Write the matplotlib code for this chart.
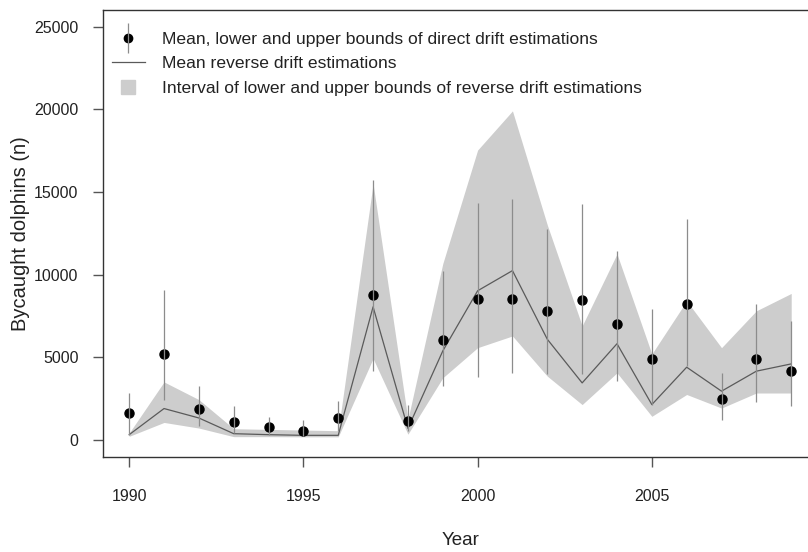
import numpy as np
import matplotlib
matplotlib.use('Agg')
import matplotlib.pyplot as plt
from matplotlib.lines import Line2D
from matplotlib.legend_handler import HandlerTuple

plt.rcParams['font.family'] = ['Liberation Sans', 'DejaVu Sans']

# Data
years = list(range(1990, 2010))

# direct drift estimations (mean, lower, upper)
direct_mean = [1630, 5180, 1870, 1100, 800, 560, 1350, 8760, 1170, 6040,
               8520, 8520, 7770, 8460, 7000, 4890, 8210, 2480, 4890, 4200]
direct_low = [330, 2440, 820, 420, 320, 220, 560, 4160, 560, 3250,
              3800, 4060, 3960, 3960, 3550, 2140, 4470, 1230, 2280, 2040]
direct_high = [2840, 9060, 3250, 2030, 1370, 1230, 2340, 15700, 2140, 10240,
               14330, 14590, 12770, 14290, 11450, 7910, 13380, 4060, 8250, 7200]

# reverse drift estimations (mean, lower, upper)
reverse_mean = [320, 1900, 1330, 380, 320, 280, 280, 8050, 700, 5380,
                9020, 10240, 6090, 3450, 5820, 2140, 4400, 2950, 4160, 4600]
reverse_low = [220, 1060, 720, 200, 200, 190, 190, 4930, 350, 3760,
               5580, 6290, 3860, 2140, 4060, 1430, 2750, 1930, 2840, 2840]
reverse_high = [420, 3510, 2440, 680, 640, 600, 560, 15500, 1250, 10660,
                17530, 19900, 13000, 6900, 11250, 5200, 8410, 5580, 7810, 8860]

legend_labels = ["Mean, lower and upper bounds of direct drift estimations",
                 "Mean reverse drift estimations",
                 "Interval of lower and upper bounds of reverse drift estimations"]

fig = plt.figure(figsize=(8.08, 5.52), dpi=100)
ax = fig.add_axes([0.1271, 0.1730, 0.8849, 0.8089])

txt = '#222222'
band_col = '#cdcdcd'
line_col = '#5a5a5a'
bar_col = '#8c8c8c'

# reverse interval band and mean line
ax.fill_between(years, reverse_low, reverse_high, color=band_col, lw=0, zorder=1)
ax.plot(years, reverse_mean, color=line_col, lw=0.9, zorder=2)

# direct estimations: points with vertical bars on top
ax.plot(years, direct_mean, 'o', color='black', ms=6.5, zorder=3)
ax.vlines(years, direct_low, direct_high, color=bar_col, lw=0.9, zorder=4)

ax.set_xlim(1989.24, 2009.76)
ax.set_ylim(-1000, 26000)
ax.set_xticks([1990, 1995, 2000, 2005])
ax.set_yticks(range(0, 25001, 5000))

for s in ax.spines.values():
    s.set_color('#333333')
    s.set_linewidth(1.0)
ax.tick_params(axis='both', length=7.5, width=1.0, color='#555555',
               labelsize=11.5, labelcolor=txt)
ax.tick_params(axis='y', pad=10)
ax.tick_params(axis='x', pad=16)

ax.set_xlabel('Year', fontsize=13.5, color=txt, labelpad=20)
ax.set_ylabel('Bycaught dolphins (n)', fontsize=14.5, color=txt, labelpad=3)

# legend
h_point = (Line2D([], [], color='black', marker='o', ms=6, ls='None'),
           Line2D([], [], color=bar_col, marker='|', ms=22, mew=0.9, ls='None'))
h_line = Line2D([], [], color=line_col, lw=0.9)
h_band = Line2D([], [], color=band_col, marker='s', ms=10, ls='None')
ax.legend([h_point, h_line, h_band], legend_labels,
          handler_map={tuple: HandlerTuple(ndivide=1)},
          loc='upper left', bbox_to_anchor=(0.0126, 0.951),
          frameon=False, fontsize=12.6, borderpad=0, borderaxespad=0,
          handlelength=1.9, handletextpad=0.98, labelspacing=0.52,
          labelcolor=txt)

fig.savefig('out.png', dpi=100)
